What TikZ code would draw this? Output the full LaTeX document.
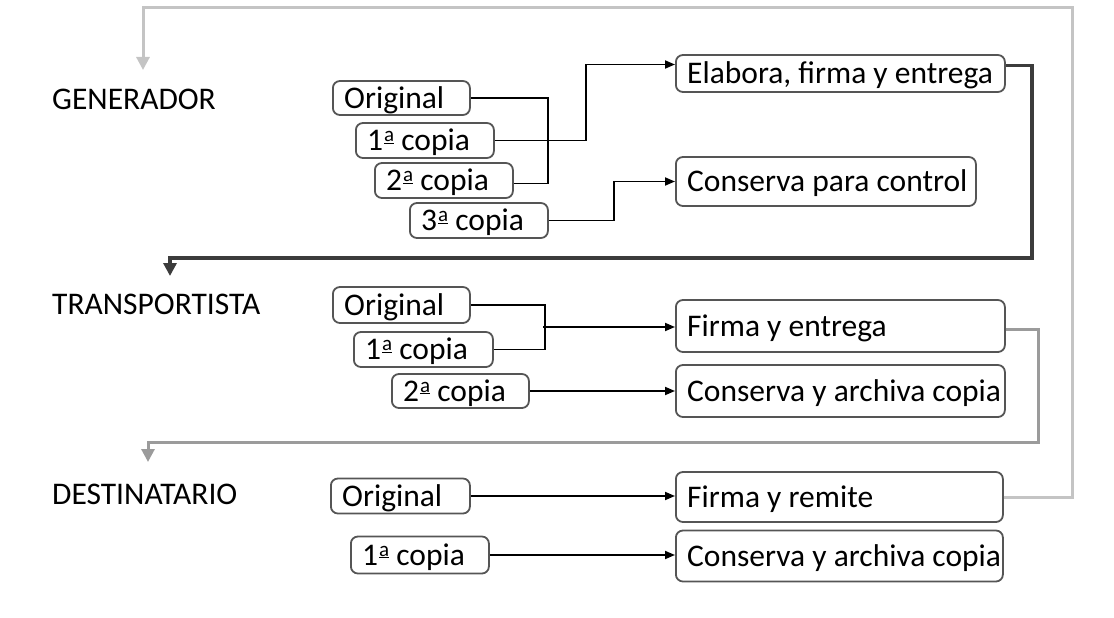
\documentclass[tikz,border=0pt]{standalone}
\usepackage{fontspec}
\setmainfont{Carlito}
\usetikzlibrary{arrows.meta}
\definecolor{boxline}{RGB}{85,85,85}
\definecolor{darkflow}{RGB}{60,60,60}
\definecolor{midflow}{RGB}{155,155,155}
\definecolor{lightflow}{RGB}{196,196,196}
% feminine ordinal with underline, as in the reference
\newcommand{\ordA}{\kern1pt\raisebox{9pt}{\fontsize{21}{21}\selectfont\underline{a}}}
\tikzset{
  txt/.style={anchor=west, inner xsep=12pt, inner ysep=0pt, text height=20pt, text depth=0pt,
    font=\fontsize{31.5}{38}\selectfont},
  bx/.style 2 args={draw=boxline, line width=1.8pt, rounded corners=7pt, anchor=west,
    inner sep=0pt, minimum width=#1, minimum height=#2},
  wire/.style={line width=1.8pt, -{Triangle[length=10pt,width=8pt]}},
  bracket/.style={line width=1.8pt},
  back/.style={line width=#1, -{Triangle[length=13pt,width=13pt]}},
}
\begin{document}
\begin{tikzpicture}[x=1pt,y=-1pt]
\useasboundingbox (0,0) rectangle (1114,618);
% section labels
\node[txt, inner xsep=0pt] (gen) at (52,99) {GENERADOR};
\node[txt, inner xsep=0pt] (tra) at (52,304) {TRANSPORTISTA};
\node[txt, inner xsep=0pt] (des) at (52,494) {DESTINATARIO};
\coordinate (gin) at (143,70);
\coordinate (tin) at (170,276);
\coordinate (din) at (148,462);

% generador
\node[bx={137pt}{34pt}, label={[txt]west:Original}] (go) at (332,98) {};
\node[bx={138pt}{35pt}, label={[txt]west:1\ordA{} copia}] (g1) at (355,140.5) {};
\node[bx={138pt}{35pt}, label={[txt]west:2\ordA{} copia}] (g2) at (374,180.5) {};
\node[bx={138pt}{35pt}, label={[txt]west:3\ordA{} copia}] (g3) at (409,220.5) {};
\node[bx={329pt}{37pt}, label={[txt]west:Elabora, firma y entrega}] (ge) at (675,73.5) {};
\node[bx={300pt}{49pt}, label={[txt]west:Conserva para control}] (gc) at (675,181.5) {};

\draw[bracket] (go.east) -- ++(77,0) |- ([yshift=-3pt]g2.east);
\draw[wire] (g1.east) -- ++(91,0) |- ([yshift=9pt]ge.west);
\draw[wire] (g3.east) -- ++(65,0) |- (gc.west);
\draw[back=3.5pt, draw=darkflow] ([yshift=8pt]ge.east) -| (1032,258) -| (tin);

% transportista
\node[bx={137pt}{36pt}, label={[txt]west:Original}] (to) at (332,305) {};
\node[bx={139pt}{35pt}, label={[txt]west:1\ordA{} copia}] (t1) at (353,349.5) {};
\node[bx={137pt}{34pt}, label={[txt]west:2\ordA{} copia}] (t2) at (391,391) {};
\node[bx={329pt}{52pt}, label={[txt]west:Firma y entrega}] (te) at (675,326) {};
\node[bx={329pt}{52pt}, label={[txt]west:Conserva y archiva copia}] (tc) at (675,391) {};
\coordinate (tj) at (543,327);

\draw[bracket] (to.east) -- ++(74,0) |- (t1.east);
\draw[wire] (tj) -- (tj -| te.west);
\draw[wire] (t2.east) -- (tc.west);
\draw[back=3pt, draw=midflow] ([yshift=-3pt]te.east) -| (1038,442) -| (din);

% destinatario
\node[bx={139pt}{35pt}, label={[txt]west:Original}] (do) at (330,496) {};
\node[bx={138pt}{37pt}, label={[txt]west:1\ordA{} copia}] (d1) at (350,555) {};
\node[bx={327pt}{50pt}, label={[txt]west:Firma y remite}] (de) at (675,497) {};
\node[bx={327pt}{51pt}, label={[txt]west:Conserva y archiva copia}] (dc) at (675,556) {};

\draw[wire] (do.east) -- (do.east -| de.west);
\draw[wire] (d1.east) -- (d1.east -| dc.west);
\draw[back=3pt, draw=lightflow] (de.east) -| (1072,8) -| (gin);
\end{tikzpicture}
\end{document}
